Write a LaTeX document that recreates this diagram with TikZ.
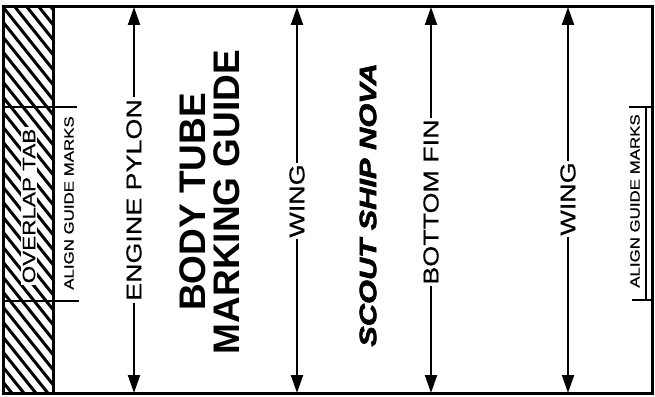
\documentclass[tikz,border=0pt]{standalone}
\usepackage{fontspec}
\usepackage{tikz}
\usetikzlibrary{arrows.meta}
\setmainfont{Liberation Sans}
\newfontfamily\widesans[FakeStretch=1.25,FakeBold=0.6]{Liberation Sans}
\newfontfamily\scoutsans[FakeStretch=1.3,FakeBold=2.5]{Liberation Sans}

\begin{document}
\begin{tikzpicture}[x=1pt,y=1pt]
	\tikzstyle{every node}+=[inner sep=0pt]
	\tikzstyle{guidetext}=[rotate=90,inner xsep=1.5pt,font=\widesans\fontsize{21.5}{24}\selectfont]
	\tikzstyle{aligntext}=[rotate=90,font=\widesans\fontsize{13.5}{15}\selectfont]
	\tikzstyle{dimarrow}=[line width=2pt,-{Triangle[length=18pt,width=12pt]}]
	\tikzstyle{hatch}=[line width=3pt]
	\fill [white] (0,0) rectangle (655,396);
	\useasboundingbox (0,0) rectangle (655,396);
	\coordinate (top) at (0,389);
	\coordinate (bottom) at (0,3);
	% overlap tab hatching
	\begin{scope}
		\clip (3,3) rectangle (53,389);
		\foreach \i in {-30,...,5}
			\draw [hatch] (3+12*\i,389) -- ++(320,-400);
	\end{scope}
	\node [rotate=90,fill=white,inner sep=2pt,font=\widesans\fontsize{18}{20}\selectfont] (tab) at (29,190) {OVERLAP TAB};
	% outline
	\draw [black,line width=3pt] (3,3) rectangle (652,389);
	\draw [black,line width=3pt] (53,3) -- (53,389);
	\draw [black,line width=2.4pt] (3,289) -- (77,289);
	\draw [black,line width=2.4pt] (3,95) -- (79,95);
	\draw [black,line width=2pt] (629,289) -- (646,289) -- (646,96) -- (632,96);
	\draw [black,line width=2pt] (646,289) -- (652,289);
	\draw [black,line width=2pt] (646,96) -- (652,96);
	% texts
	\node [aligntext] (alignL) at (69,193) {ALIGN GUIDE MARKS};
	\node [aligntext] (alignR) at (635,195) {ALIGN GUIDE MARKS};
	\node [guidetext] (eng) at (134,196) {ENGINE PYLON};
	\node [rotate=90,align=center,font=\bfseries\fontsize{37}{34}\selectfont] (title) at (210,194) {BODY TUBE\\MARKING GUIDE};
	\node [guidetext] (wingA) at (297,195) {WING};
	\node [rotate=90,font=\scoutsans\bfseries\itshape\fontsize{23.7}{26}\selectfont] (ship) at (368,191) {SCOUT SHIP NOVA};
	\node [guidetext] (fin) at (431,194) {BOTTOM FIN};
	\node [guidetext] (wingB) at (568,197) {WING};
	% arrows
	\foreach \n in {eng,wingA,fin,wingB} {
		\draw [dimarrow] (\n.east) -- (\n.east |- top);
		\draw [dimarrow] (\n.west) -- (\n.west |- bottom);
	}
\end{tikzpicture}
\end{document}
